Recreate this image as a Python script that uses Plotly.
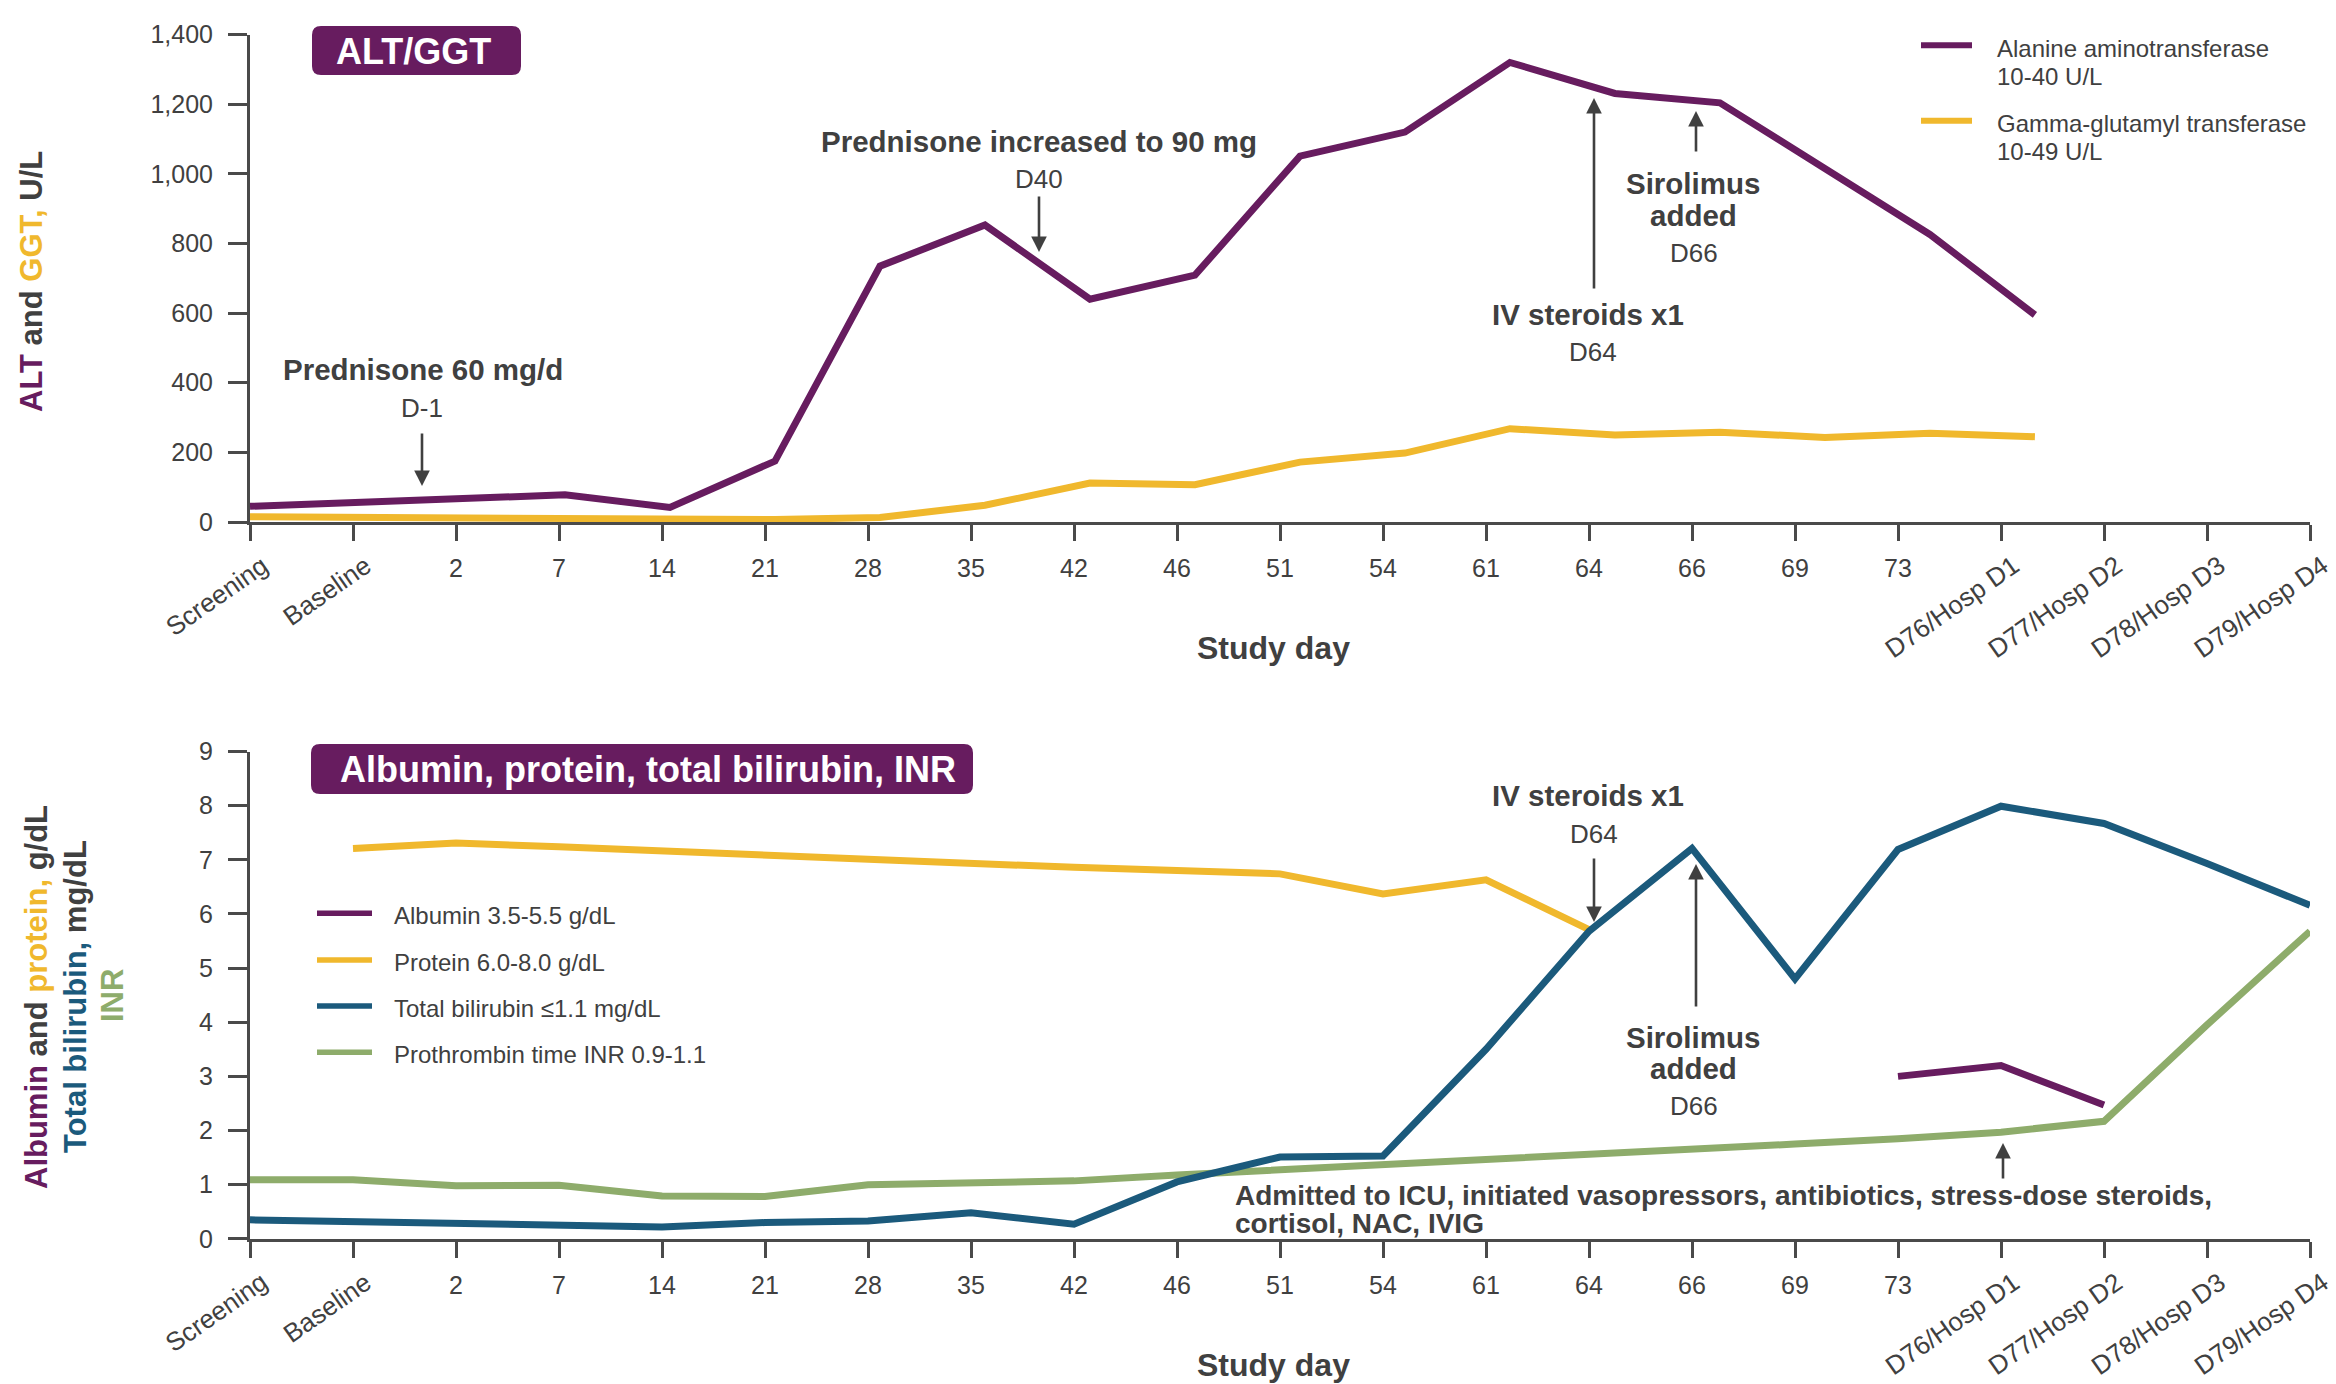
import plotly.graph_objects as go

# ---------------- data ----------------
categories = ["Screening", "Baseline", "2", "7", "14", "21", "28", "35", "42", "46",
              "51", "54", "61", "64", "66", "69", "73",
              "D76/Hosp D1", "D77/Hosp D2", "D78/Hosp D3", "D79/Hosp D4"]

alt_values = [45, 55, 65, 78, 42, 175, 735, 853, 640, 709, 1051, 1120, 1320, 1231, 1204,
              1015, 826, 595, None, None, None]
ggt_values = [15, 13, 11, 8, 5, 7, 13, 48, 112, 107, 172, 198, 268, 250, 258,
              243, 255, 245, None, None, None]

albumin_values = [None] * 16 + [3.0, 3.2, 2.47, None, None]
protein_values = [None, 7.21, 7.31, 7.24, 7.16, 7.08, 7.0, 6.93, 6.86, 6.8, 6.74, 6.37,
                  6.63, 5.71, None, None, None, None, None, None, None]
bilirubin_values = [0.35, 0.31, 0.28, 0.25, 0.22, 0.3, 0.33, 0.48, 0.27, 1.05, 1.51, 1.53,
                    3.5, 5.68, 7.21, 4.8, 7.19, 7.99, 7.67, 6.93, 6.16]
inr_values = [1.09, 1.09, 0.98, 0.99, 0.79, 0.78, 1.0, 1.03, 1.07, 1.18, 1.27, 1.36,
              1.46, 1.55, 1.63, 1.75, 1.85, 1.97, 2.17, 3.95, 5.68]

top_legend = [("Alanine aminotransferase", "10-40 U/L"),
              ("Gamma-glutamyl transferase", "10-49 U/L")]
bottom_legend = ["Albumin 3.5-5.5 g/dL", "Protein 6.0-8.0 g/dL",
                 "Total bilirubin \u22641.1 mg/dL", "Prothrombin time INR 0.9-1.1"]

# ---------------- styles ----------------
W, H = 2336, 1384
PURPLE = "#671C5F"
GOLD = "#F0B82D"
BLUE = "#1B5A7C"
GREEN = "#8EAC6B"
GRAY = "#404040"
AXIS = "#4a4a4a"
FONT = "Liberation Sans, Arial, sans-serif"
LW = 7
BOLD_SZ = 29.5
DAY_SZ = 26


def px(x):
    return x / W


def py(y):
    return 1 - y / H


X_L, X_R = 250, 2310
TOP_Y0, TOP_Y1 = 522, 34.6
BOT_Y0, BOT_Y1 = 1238.8, 751.5

idx = list(range(len(categories)))
num_text = [c if c.isdigit() else "" for c in categories]

fig = go.Figure()

# carrier for the top tick axis (no visible marks)
fig.add_trace(go.Scatter(x=idx, y=[None] * len(idx), mode="lines", xaxis="x", yaxis="y",
                         hoverinfo="skip", showlegend=False))

# top panel (data drawn on a slightly stretched overlay scale as in the source)
fig.add_trace(go.Scatter(x=idx, y=ggt_values, mode="lines", xaxis="x3", yaxis="y",
                         line=dict(color=GOLD, width=LW), name="GGT",
                         text=categories, showlegend=False))
fig.add_trace(go.Scatter(x=idx, y=alt_values, mode="lines", xaxis="x3", yaxis="y",
                         line=dict(color=PURPLE, width=LW), name="ALT",
                         text=categories, showlegend=False))

# bottom panel
for vals, col, nm in [(protein_values, GOLD, "Protein"),
                      (inr_values, GREEN, "INR"),
                      (bilirubin_values, BLUE, "Total bilirubin"),
                      (albumin_values, PURPLE, "Albumin")]:
    fig.add_trace(go.Scatter(x=idx, y=vals, mode="lines", xaxis="x2", yaxis="y2",
                             line=dict(color=col, width=LW), name=nm,
                             text=categories, showlegend=False))

xcommon = dict(domain=[px(X_L), px(X_R)], range=[0, 20], tickmode="array",
               tickvals=idx, ticktext=num_text, ticks="outside", ticklen=16,
               tickwidth=2.5, tickcolor=AXIS, showline=True, linecolor=AXIS,
               linewidth=3, showgrid=False, zeroline=False, automargin=False,
               ticklabelstandoff=6,
               tickfont=dict(size=25, color=GRAY, family=FONT))
ycommon = dict(ticks="outside", ticklen=19, tickwidth=2.5, tickcolor=AXIS,
               showline=True, linecolor=AXIS, linewidth=3, showgrid=False,
               zeroline=False, automargin=False,
               tickfont=dict(size=25, color=GRAY, family=FONT),
               ticklabelstandoff=10)

fig.update_layout(
    width=W, height=H, margin=dict(l=0, r=0, t=0, b=0, autoexpand=False),
    paper_bgcolor="white", plot_bgcolor="rgba(0,0,0,0)",
    font=dict(family=FONT, color=GRAY),
    xaxis=dict(anchor="y", **xcommon),
    yaxis=dict(anchor="x", domain=[py(TOP_Y0), py(TOP_Y1)], range=[0, 1400],
               tickvals=list(range(0, 1401, 200)), tickformat=",d", **ycommon),
    xaxis3=dict(overlaying="x", anchor="y", domain=[px(X_L), px(X_R)],
                range=[0, 19.62], visible=False, automargin=False),
    xaxis2=dict(anchor="y2", **xcommon),
    yaxis2=dict(anchor="x2", domain=[py(BOT_Y0), py(BOT_Y1)], range=[0, 9],
                tickvals=list(range(0, 10)), **ycommon),
)

annotations = []
shapes = []


def text_ann(x, y, text, size, bold=False, color=GRAY, xanchor="center", angle=0):
    t = f"<b>{text}</b>" if bold else text
    annotations.append(dict(xref="paper", yref="paper", x=px(x), y=py(y), text=t,
                            showarrow=False, xanchor=xanchor, yanchor="middle",
                            textangle=angle,
                            font=dict(size=size, color=color, family=FONT)))


def arrow(x, y_tail, y_tip):
    annotations.append(dict(xref="paper", yref="paper", x=px(x), y=py(y_tip), text="",
                            showarrow=True, ax=0, ay=y_tail - y_tip, arrowhead=2,
                            arrowsize=1.2, arrowwidth=2.6, arrowcolor=GRAY, standoff=0))


def rounded_box(x0, y0, x1, y1, r):
    def P(x, y):
        return f"{px(x):.6f},{py(y):.6f}"
    path = (f"M{P(x0 + r, y0)} L{P(x1 - r, y0)} Q{P(x1, y0)} {P(x1, y0 + r)} "
            f"L{P(x1, y1 - r)} Q{P(x1, y1)} {P(x1 - r, y1)} L{P(x0 + r, y1)} "
            f"Q{P(x0, y1)} {P(x0, y1 - r)} L{P(x0, y0 + r)} Q{P(x0, y0)} {P(x0 + r, y0)} Z")
    shapes.append(dict(type="path", xref="paper", yref="paper", path=path,
                       fillcolor=PURPLE, line=dict(width=0)))


# rotated category labels (text categories)
for axis_y in (TOP_Y0, BOT_Y0):
    for i, c in enumerate(categories):
        if c.isdigit():
            continue
        tick_x = X_L + (X_R - X_L) * i / 20
        annotations.append(dict(xref="paper", yref="paper", x=px(tick_x + 26),
                                y=py(axis_y + 25), text=c, showarrow=False,
                                xanchor="right", yanchor="top", textangle=-35,
                                font=dict(size=26, color=GRAY, family=FONT)))
    text_ann(1273, axis_y + 126, "Study day", 32, bold=True)

# panel titles
rounded_box(312, 26, 521, 75, 9)
text_ann(414, 51, "ALT/GGT", 36, bold=True, color="white")
rounded_box(311, 744, 973, 794, 9)
text_ann(648, 769, "Albumin, protein, total bilirubin, INR", 36, bold=True, color="white")

# y-axis titles
annotations.append(dict(xref="paper", yref="paper", x=px(31), y=py(282),
                        text=(f"<b><span style='color:{PURPLE}'>ALT</span> and "
                              f"<span style='color:{GOLD}'>GGT,</span> U/L</b>"),
                        showarrow=False, textangle=-90, xanchor="center", yanchor="middle",
                        font=dict(size=31, color=GRAY, family=FONT)))
annotations.append(dict(xref="paper", yref="paper", x=px(36), y=py(997),
                        text=(f"<b><span style='color:{PURPLE}'>Albumin</span> and "
                              f"<span style='color:{GOLD}'>protein,</span> g/dL</b>"),
                        showarrow=False, textangle=-90, xanchor="center", yanchor="middle",
                        font=dict(size=31, color=GRAY, family=FONT)))
annotations.append(dict(xref="paper", yref="paper", x=px(75), y=py(997),
                        text=(f"<b><span style='color:{BLUE}'>Total bilirubin,</span> mg/dL</b>"),
                        showarrow=False, textangle=-90, xanchor="center", yanchor="middle",
                        font=dict(size=31, color=GRAY, family=FONT)))
annotations.append(dict(xref="paper", yref="paper", x=px(112), y=py(996),
                        text=f"<b>INR</b>", showarrow=False, textangle=-90,
                        xanchor="center", yanchor="middle",
                        font=dict(size=31, color=GREEN, family=FONT)))

# top legend
for (l1, l2), col, ly in zip(top_legend, [PURPLE, GOLD], [45.3, 120.7]):
    shapes.append(dict(type="line", xref="paper", yref="paper", x0=px(1921), x1=px(1972),
                       y0=py(ly), y1=py(ly), line=dict(color=col, width=6)))
    text_ann(1995, ly + 3, l1, 24, xanchor="left")
    text_ann(1995, ly + 31, l2, 24, xanchor="left")

# bottom legend
for lab, col, ly in zip(bottom_legend, [PURPLE, GOLD, BLUE, GREEN],
                        [913.3, 960, 1006, 1052.3]):
    shapes.append(dict(type="line", xref="paper", yref="paper", x0=px(317), x1=px(372),
                       y0=py(ly), y1=py(ly), line=dict(color=col, width=5.5)))
    text_ann(392, ly + 2, lab, 24, xanchor="left")

# top annotations
text_ann(423, 370, "Prednisone 60 mg/d", BOLD_SZ, bold=True)
text_ann(422, 408, "D-1", DAY_SZ)
arrow(422, 432, 486)
text_ann(1039, 141, "Prednisone increased to 90 mg", BOLD_SZ, bold=True)
text_ann(1039, 179, "D40", DAY_SZ)
arrow(1039, 195, 252)
text_ann(1588, 314, "IV steroids x1", BOLD_SZ, bold=True)
text_ann(1593, 352, "D64", DAY_SZ)
arrow(1594, 290, 98)
text_ann(1693, 183, "Sirolimus", BOLD_SZ, bold=True)
text_ann(1693, 215, "added", BOLD_SZ, bold=True)
text_ann(1694, 253, "D66", DAY_SZ)
arrow(1696, 153, 111)

# bottom annotations
text_ann(1588, 795, "IV steroids x1", BOLD_SZ, bold=True)
text_ann(1594, 834, "D64", DAY_SZ)
arrow(1594, 857, 922)
text_ann(1693, 1037, "Sirolimus", BOLD_SZ, bold=True)
text_ann(1693, 1068, "added", BOLD_SZ, bold=True)
text_ann(1694, 1106, "D66", DAY_SZ)
arrow(1696, 1008, 864)
text_ann(1233, 1195, "Admitted to ICU, initiated vasopressors, antibiotics, stress-dose steroids,",
         28, bold=True, xanchor="left")
text_ann(1233, 1223.5, "cortisol, NAC, IVIG", 28, bold=True, xanchor="left")
arrow(2003, 1180, 1143)

fig.update_layout(annotations=annotations, shapes=shapes)
fig.write_html("out.html")
